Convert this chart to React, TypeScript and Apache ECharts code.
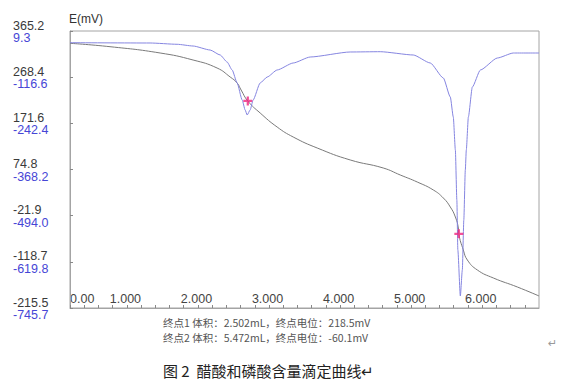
import React, { useEffect, useRef } from "react";
import * as echarts from "echarts";

const blackVolume = [0, 0.563, 1.268, 1.732, 2.07, 2.254, 2.352, 2.408, 2.502, 2.676, 2.915, 3.141, 3.479, 3.944, 4.408, 4.648, 4.887, 5.113, 5.254, 5.352, 5.423, 5.465, 5.472, 5.535, 5.592, 5.732, 5.958, 6.296, 6.6];
const blackPotential = [339.4, 332.3, 319.1, 304.4, 287.6, 268.8, 256.2, 241.5, 218.5, 193.3, 163.9, 143.0, 119.9, 94.8, 78.0, 63.3, 48.6, 31.9, 15.1, -3.8, -24.7, -47.8, -60.1, -93.9, -114.9, -135.8, -152.6, -171.5, -190.3];

const blueVolume = [0, 1.127, 1.507, 1.732, 1.972, 2.113, 2.211, 2.282, 2.352, 2.423, 2.465, 2.493, 2.535, 2.577, 2.676, 2.775, 2.915, 3.141, 3.38, 3.944, 4.366, 4.831, 5.07, 5.254, 5.352, 5.394, 5.423, 5.444, 5.458, 5.493, 5.521, 5.542, 5.563, 5.577, 5.606, 5.662, 5.775, 6.014, 6.239, 6.6];
const blueDerivative = [-22.6, -23.4, -26.9, -31.6, -42.5, -56.1, -75.2, -97.0, -132.4, -178.8, -206.0, -219.7, -206.0, -178.8, -132.4, -116.1, -97.0, -77.9, -61.6, -47.9, -47.1, -56.1, -77.9, -118.8, -170.6, -225.1, -315.0, -451.3, -587.6, -713.0, -642.1, -505.8, -369.6, -315.0, -225.1, -143.3, -97.0, -64.3, -50.7, -50.7];

const endVolumes = [2.502, 5.472];
const endPotentials = [218.5, -60.1];

const leftTicks = [-215.5, -118.7, -21.9, 74.8, 171.6, 268.4, 365.2];
const rightTicks = [-745.7, -619.8, -494.0, -368.2, -242.4, -116.6, 9.3];
const xLabelValues = [1, 2, 3, 4, 5, 6];
const xTickValues = [0, 0.2, 0.4, 0.6, 0.8, 1, 1.2, 1.4, 1.6, 1.8, 2, 2.2, 2.4, 2.6, 2.8, 3, 3.2, 3.4, 3.6, 3.8, 4, 4.2, 4.4, 4.6, 4.8, 5, 5.2, 5.4, 5.6, 5.8, 6, 6.2, 6.4];

const footer1 = "终点1 体积：2.502mL，终点电位：218.5mV";
const footer2 = "终点2 体积：5.472mL，终点电位：-60.1mV";
const caption = "图 2  醋酸和磷酸含量滴定曲线↵";

export default function App() {
  const ref = useRef<HTMLDivElement>(null);
  useEffect(() => {
    if (!ref.current) return;
    const chart = echarts.init(ref.current, null, { renderer: "svg" });
    const axisColor = "#a4a4a4";
    const font = "Liberation Sans, Arial, sans-serif";
    chart.setOption({
      animation: false,
      backgroundColor: "#ffffff",
      grid: { left: 70, right: 35, top: 31, bottom: 79, show: true, borderColor: axisColor, borderWidth: 1, backgroundColor: "transparent" },
      xAxis: {
        type: "value",
        min: 0,
        max: 6.6,
        interval: 1,
        axisLine: { show: true, onZero: false, lineStyle: { color: axisColor } },
        axisTick: { show: true, inside: true, length: 3, customValues: xTickValues, lineStyle: { color: "#888" } },
        axisLabel: {
          inside: true,
          margin: 3,
          align: "right",
          customValues: xLabelValues,
          color: "#444",
          fontSize: 12.5,
          fontFamily: font,
          formatter: (v: number) => v.toFixed(3),
        },
        splitLine: { show: false },
      },
      yAxis: [
        {
          type: "value",
          min: -215.5,
          max: 365.2,
          position: "left",
          axisLine: { show: true, onZero: false, lineStyle: { color: axisColor } },
          axisTick: { show: true, inside: true, length: 3, customValues: leftTicks, lineStyle: { color: "#888" } },
          axisLabel: {
            customValues: leftTicks,
            align: "left",
            margin: 57,
            verticalAlign: "bottom",
            lineHeight: 11,
            color: "#3a3a3a",
            fontSize: 12.5,
            fontFamily: font,
            formatter: (v: number) => v.toFixed(1),
          },
          splitLine: { show: false },
        },
        {
          type: "value",
          min: -745.7,
          max: 9.3,
          position: "left",
          axisLine: { show: false, onZero: false },
          axisTick: { show: false },
          axisLabel: {
            customValues: rightTicks,
            align: "left",
            margin: 57,
            verticalAlign: "top",
            lineHeight: 14,
            color: "#4646d6",
            fontSize: 12.5,
            fontFamily: font,
            formatter: (v: number) => v.toFixed(1),
          },
          splitLine: { show: false },
        },
      ],
      series: [
        {
          type: "line",
          yAxisIndex: 0,
          data: blackVolume.map((x, i) => [x, blackPotential[i]]),
          showSymbol: false,
          symbol: "none",
          smooth: 0.5,
          lineStyle: { color: "#7a7a7a", width: 1 },
          z: 2,
        },
        {
          type: "line",
          yAxisIndex: 1,
          data: blueVolume.map((x, i) => [x, blueDerivative[i]]),
          showSymbol: false,
          symbol: "none",
          smooth: 0.2,
          smoothMonotone: "x",
          lineStyle: { color: "#8585e0", width: 1 },
          z: 3,
        },
        {
          type: "scatter",
          yAxisIndex: 0,
          data: endVolumes.map((x, i) => [x, endPotentials[i]]),
          symbol: "path://M3,0H5V3H8V5H5V8H3V5H0V3H3Z",
          symbolSize: 9,
          itemStyle: { color: "#f0257f" },
          z: 5,
        },
      ],
      graphic: [
        { type: "text", left: 70, top: 292, style: { text: "0.00", fill: "#444", fontSize: 12.5, fontFamily: font } },
        { type: "text", left: 69, top: 13, style: { text: "E(mV)", fill: "#333", fontSize: 12, fontFamily: font } },
        { type: "text", left: 163, top: 317, style: { text: footer1, fill: "#555", fontSize: 10.5, fontFamily: "Noto Sans CJK SC, sans-serif" } },
        { type: "text", left: 163, top: 332, style: { text: footer2, fill: "#555", fontSize: 10.5, fontFamily: "Noto Sans CJK SC, sans-serif" } },
        { type: "text", left: 163, top: 363, style: { text: caption, fill: "#222", fontSize: 15, fontFamily: "Noto Sans CJK SC, sans-serif" } },
        { type: "text", left: 548, top: 338, style: { text: "↵", fill: "#999", fontSize: 11, fontFamily: "DejaVu Sans, sans-serif" } },
      ],
    });
    return () => chart.dispose();
  }, []);
  return <div ref={ref} style={{ position: "fixed", left: 0, top: 0, width: 574, height: 387 }} />;
}
